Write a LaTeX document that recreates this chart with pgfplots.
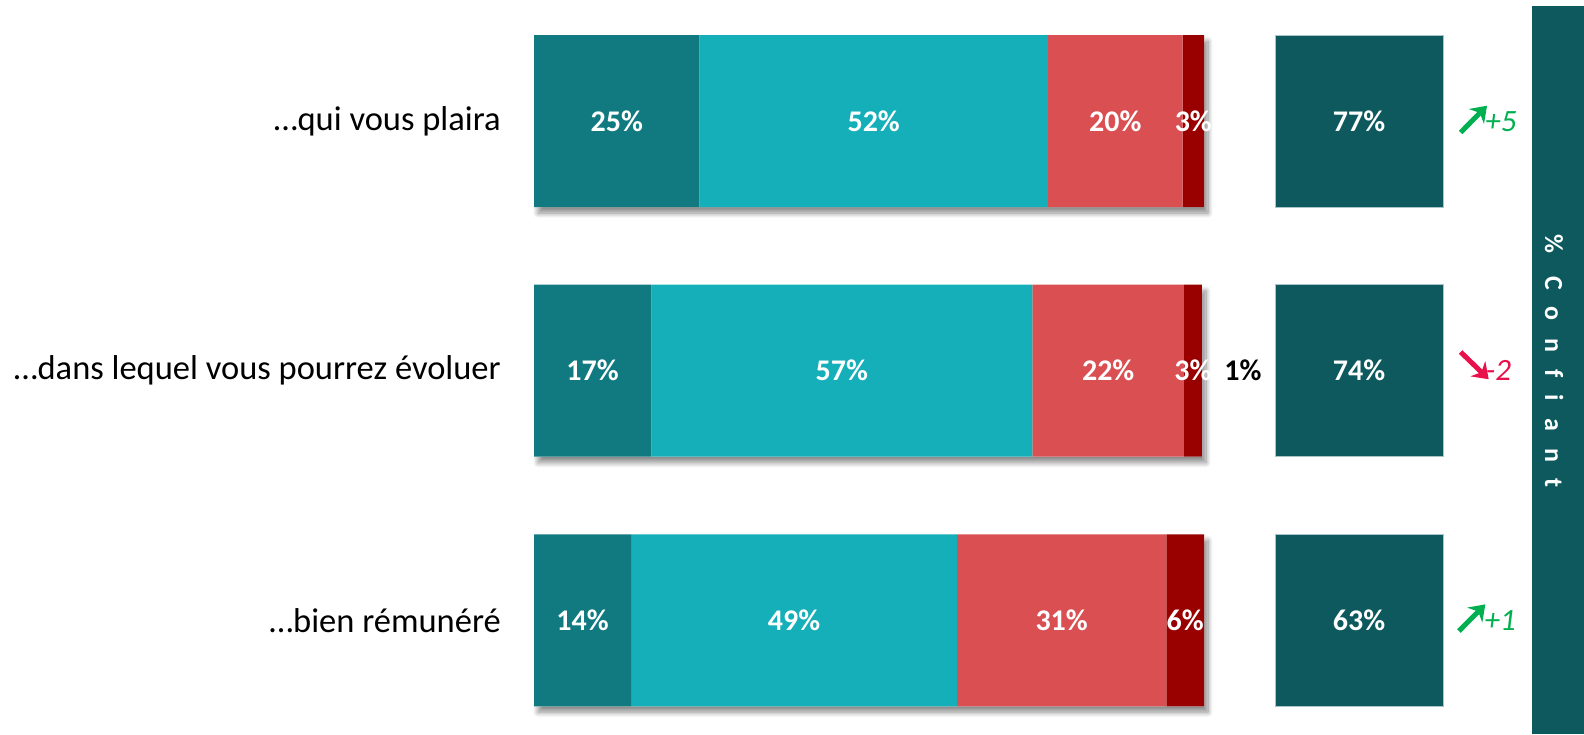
\documentclass[border=0pt]{standalone}
\usepackage{fontspec}
\setmainfont{Carlito}
\usepackage{pgfplots}
\usepackage{pgfplotstable}
\pgfplotsset{compat=1.18}
\usetikzlibrary{arrows.meta,shadows.blur}
\definecolor{cA}{HTML}{107A80}
\definecolor{cB}{HTML}{14AFB8}
\definecolor{cC}{HTML}{D94F52}
\definecolor{cD}{HTML}{990000}
\definecolor{cBox}{HTML}{0D595E}
\definecolor{cUp}{HTML}{00B050}
\definecolor{cDown}{HTML}{E8114B}

% segment widths (percent of the bar)
\pgfplotstableread{
y a b c d tot
2 24.7 52.0 20.1 3.2 100
1 17.5 56.9 22.6 2.7 99.7
0 14.5 48.6 31.3 5.6 100
}\bars

% label positions (segment centres) and printed values
\pgfplotstableread{
x y lab
12.35 2 25
50.70 2 52
86.75 2 20
98.40 2 3
8.75 1 17
45.95 1 57
85.70 1 22
98.35 1 3
7.25 0 14
38.80 0 49
78.75 0 31
97.20 0 6
}\labs

\pgfplotstableread{
x y lab
105.8 1 1
}\dk

\pgfplotstableread{
y one half tot
2 1 0.5 77
1 1 0.5 74
0 1 0.5 63
}\totals

\tikzset{pct/.style={font=\bfseries\fontsize{30}{36}\selectfont, text=white, inner sep=0pt, anchor=center}}
\pgfplotsset{
  rowaxis/.style={scale only axis, height=698.74pt, ymin=-0.4, ymax=2.4,
    enlargelimits=false,
    axis line style={draw=none}, tick style={draw=none},
    xtick=\empty, ytick=\empty, clip=false, anchor=south west}
}

\begin{document}
\begin{tikzpicture}[x=1pt,y=1pt]
\useasboundingbox (0pt,0pt) rectangle (1584pt,734pt);
% shadow
\begin{axis}[rowaxis, width=670pt, at={(534pt,13.88pt)}, xmin=0, xmax=100]
\addplot[xbar, bar width=172pt, fill=white, draw=none,
  blur shadow={shadow xshift=4pt, shadow yshift=-6pt, shadow blur radius=5pt, shadow blur steps=10, shadow opacity=45}]
  table[x=tot,y=y]{\bars};
\end{axis}
% stacked bars
\begin{axis}[rowaxis, width=670pt, at={(534pt,13.88pt)}, xmin=0, xmax=100,
  xbar stacked, bar width=172pt,
  ytick={0,1,2},
  yticklabels={…bien rémunéré, …dans lequel vous pourrez évoluer, …qui vous plaira},
  yticklabel style={font=\fontsize{34.5}{41}\selectfont, anchor=east, inner sep=0pt, xshift=-33pt},
]
\addplot[fill=cA, draw=none] table[x=a, y=y]{\bars};
\addplot[fill=cB, draw=none] table[x=b, y=y]{\bars};
\addplot[fill=cC, draw=none] table[x=c, y=y]{\bars};
\addplot[fill=cD, draw=none] table[x=d, y=y]{\bars};
\end{axis}
% labels of the segments
\begin{axis}[rowaxis, width=670pt, at={(534pt,13.88pt)}, xmin=0, xmax=100]
\addplot[draw=none, mark=none, point meta=explicit symbolic,
  nodes near coords={\pgfplotspointmeta\%},
  every node near coord/.append style={pct}]
  table[x=x, y=y, meta=lab]{\labs};
\addplot[draw=none, mark=none, point meta=explicit symbolic,
  nodes near coords={\pgfplotspointmeta\%},
  every node near coord/.append style={pct, text=black}]
  table[x=x, y=y, meta=lab]{\dk};
\end{axis}
% totals
\begin{axis}[rowaxis, width=168pt, at={(1275pt,13.88pt)}, xmin=0, xmax=1]
\addplot[xbar, bar width=172pt, fill=cBox, draw=cBox!35!white, line width=0.8pt]
  table[x=one, y=y]{\totals};
\addplot[draw=none, mark=none, point meta=explicit symbolic,
  nodes near coords={\pgfplotspointmeta\%},
  every node near coord/.append style={pct}]
  table[x=half, y=y, meta=tot]{\totals};
\draw[cUp, line width=5pt, -{Stealth[length=15pt,width=21pt]}] (axis cs:1.105,1.955) -- (axis cs:1.262,2.062);
\node[cUp, font=\itshape\fontsize{31}{37}\selectfont] at (axis cs:1.345,2) {+5};
\draw[cDown, line width=5pt, -{Stealth[length=15pt,width=21pt]}] (axis cs:1.105,1.075) -- (axis cs:1.272,0.966);
\node[cDown, font=\itshape\fontsize{31}{37}\selectfont] at (axis cs:1.33,1) {-2};
\draw[cUp, line width=5pt, -{Stealth[length=15pt,width=21pt]}] (axis cs:1.095,-0.043) -- (axis cs:1.252,0.064);
\node[cUp, font=\itshape\fontsize{31}{37}\selectfont] at (axis cs:1.34,0) {+1};
\end{axis}
% side band
\fill[cBox] (1531.7pt,0pt) rectangle (1584pt,728pt);
\node[rotate=-90, text=white, inner sep=0pt,
  font=\bfseries\fontsize{26}{31}\selectfont\addfontfeature{LetterSpace=66,Ligatures=NoCommon}]
  at (1554pt,373pt) {\% Confiant};
\end{tikzpicture}
\end{document}
